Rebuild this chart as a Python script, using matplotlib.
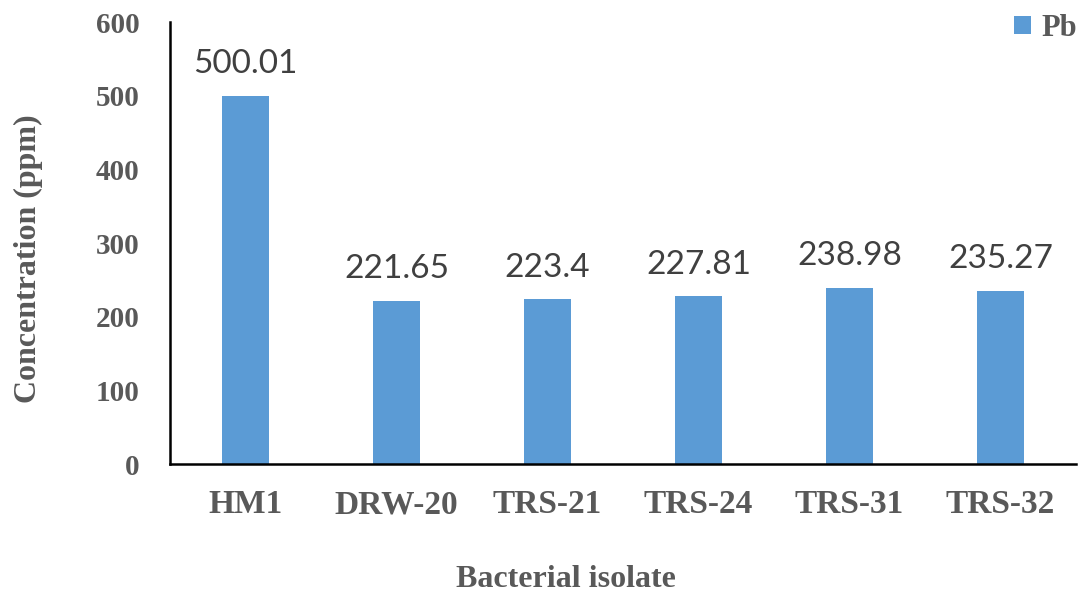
import matplotlib.pyplot as plt

# data
isolates = ['HM1', 'DRW-20', 'TRS-21', 'TRS-24', 'TRS-31', 'TRS-32']
pb_conc = [500.01, 221.65, 223.4, 227.81, 238.98, 235.27]
pb_text = ['500.01', '221.65', '223.4', '227.81', '238.98', '235.27']
yticks = [0, 100, 200, 300, 400, 500, 600]

grey = '#595959'
serif = ['Liberation Serif', 'DejaVu Serif']

fig = plt.figure(figsize=(10.91, 5.92), dpi=100)
ax = fig.add_axes([0.1558, 0.2162, 0.8305, 0.7466])

x = range(len(isolates))
bars = ax.bar(x, pb_conc, width=0.31, color='#5B9BD5', label='Pb', zorder=2)

for b, t in zip(bars, pb_text):
    ax.annotate(t, xy=(b.get_x() + b.get_width() / 2, b.get_height()),
                xytext=(0, 12), textcoords='offset points',
                ha='center', va='bottom', fontsize=24, color='#404040',
                family=['Lato', 'DejaVu Sans'])

ax.set_xlim(-0.5, len(isolates) - 0.5)
ax.set_ylim(0, 600)
ax.set_yticks(yticks)
ax.set_xticks(list(x))
ax.set_xticklabels(isolates)

for lab in ax.get_xticklabels():
    lab.set_fontfamily(serif)
    lab.set_fontweight('bold')
    lab.set_fontsize(24)
    lab.set_color(grey)
for lab in ax.get_yticklabels():
    lab.set_fontfamily(serif)
    lab.set_fontweight('bold')
    lab.set_fontsize(21)
    lab.set_color(grey)

ax.tick_params(axis='both', length=0)
ax.tick_params(axis='x', pad=18)
ax.tick_params(axis='y', pad=22)

ax.spines['top'].set_visible(False)
ax.spines['right'].set_visible(False)
ax.spines['left'].set_linewidth(1.8)
ax.spines['bottom'].set_linewidth(1.8)

ax.set_xlabel('Bacterial isolate', fontsize=23, fontweight='bold',
              color=grey, family=serif)
ax.set_ylabel('Concentration (ppm)', fontsize=23, fontweight='bold',
              color=grey, family=serif)
ax.xaxis.set_label_coords(0.437, -0.228)
ax.yaxis.set_label_coords(-0.14, 0.464)

leg = fig.legend(loc='upper right', bbox_to_anchor=(1.0, 1.0), frameon=False,
                 prop={'family': serif, 'weight': 'bold', 'size': 22},
                 handlelength=0.55, handleheight=0.55, handletextpad=0.35,
                 borderaxespad=0.05)
for t in leg.get_texts():
    t.set_color(grey)

fig.savefig('out.png', dpi=100)
